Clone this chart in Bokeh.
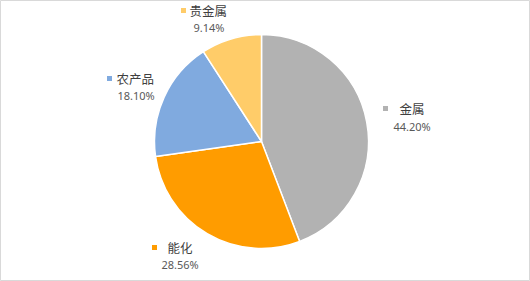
import math
from bokeh.plotting import figure
from bokeh.models import Range1d, ColumnDataSource
from bokeh.core.properties import value
from bokeh.embed import file_html
from bokeh.resources import INLINE

# ---- data ----
categories = ["金属", "能化", "农产品", "贵金属"]
shares = [44.20, 28.56, 18.10, 9.14]
pct_labels = ["44.20%", "28.56%", "18.10%", "9.14%"]
colors = ["#b2b2b2", "#ff9c00", "#80aadf", "#ffcc69"]

# ---- layout (pixel coords, y from top) ----
W, H = 530, 281
cx, cy, R = 261, 141, 107
# label layout: marker x/y, name x (left), percent x (left), percent y
marker_pos = [(385, 108), (154, 247), (109, 78), (183, 10)]
name_left = [399, 167, 116, 189]
pct_pos = [(393, 126), (161, 264), (117, 95), (193, 27)]

p = figure(width=W, height=H, output_backend="svg", toolbar_location=None,
           x_range=Range1d(0, W), y_range=Range1d(0, H), min_border=0,
           background_fill_color="white", border_fill_color="white")
p.axis.visible = False
p.grid.visible = False
p.outline_line_color = "#d9d9d9"
p.outline_line_width = 1

total = sum(shares)
starts, ends = [], []
cum = 0.0
for s in shares:
    a0 = math.pi / 2 - 2 * math.pi * cum / total
    cum += s
    a1 = math.pi / 2 - 2 * math.pi * cum / total
    starts.append(a0)
    ends.append(a1)

src = ColumnDataSource(dict(x=[cx] * len(shares), y=[H - cy] * len(shares),
                            start=starts, end=ends, color=colors))
p.wedge(x="x", y="y", radius=R, start_angle="start", end_angle="end",
        direction="clock", fill_color="color", line_color="white",
        line_width=1.5, source=src)

# legend-like markers
p.rect(x=[m[0] for m in marker_pos], y=[H - m[1] for m in marker_pos],
       width=5, height=5, fill_color=colors, line_color=None)

p.text(x=name_left, y=[H - m[1] for m in marker_pos], text=categories,
       text_font=value("Noto Sans CJK SC"), text_font_size="12.5px",
       text_color="#404040", text_baseline="middle", text_align="left")

p.text(x=[q[0] for q in pct_pos], y=[H - q[1] for q in pct_pos], text=pct_labels,
       text_font=value("Noto Sans"), text_font_size="11px",
       text_color="#595959", text_baseline="middle", text_align="left")

open("out.html", "w").write(file_html(p, INLINE))
